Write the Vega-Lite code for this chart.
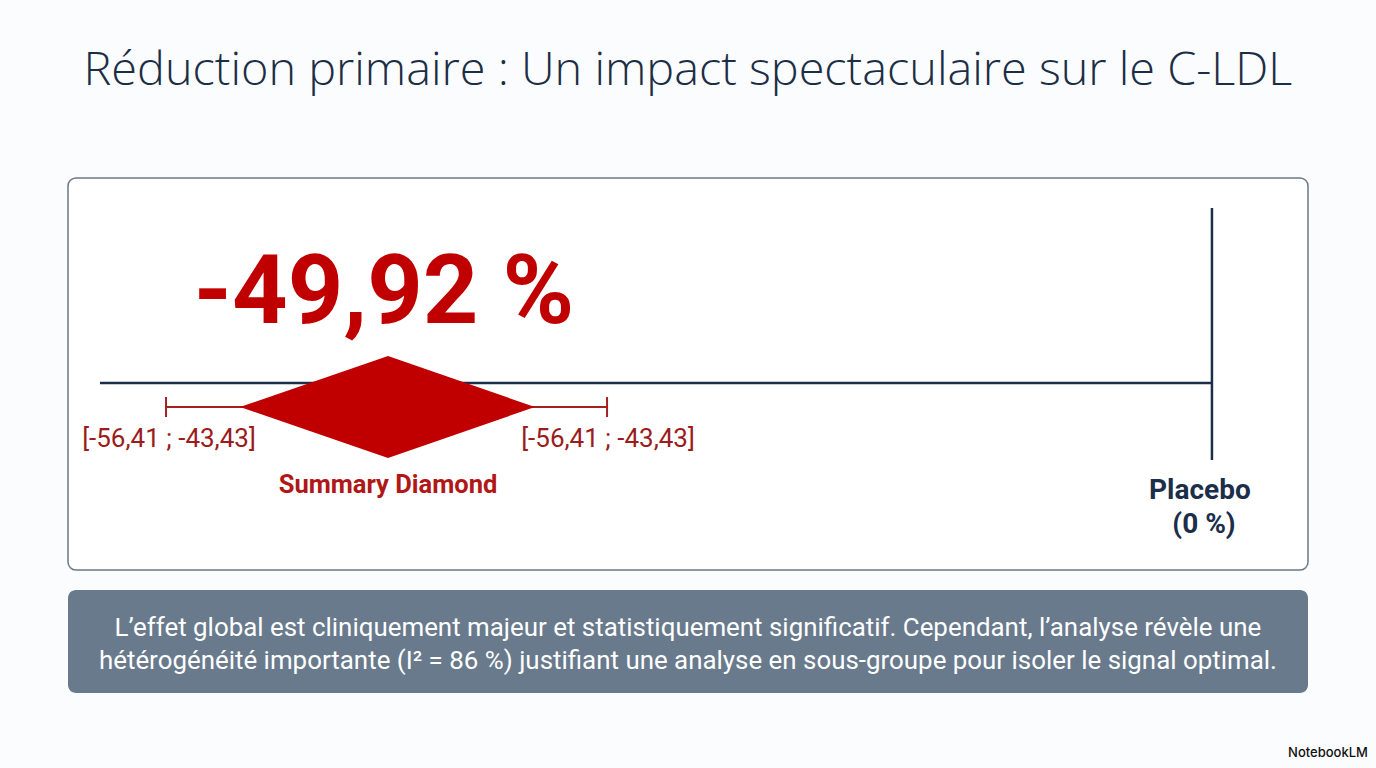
{
  "$schema": "https://vega.github.io/schema/vega-lite/v6.json",
  "width": 1376,
  "height": 768,
  "autosize": {"type": "fit", "contains": "padding"},
  "padding": 0,
  "background": "#fbfcfd",
  "config": {"view": {"stroke": null}},
  "layer": [
    {
      "data": {"values": [{"x": -69.31, "x2": 5.82, "y": 178, "y2": 570}]},
      "mark": {"type": "rect", "fill": "#ffffff", "stroke": "#6b7785", "strokeWidth": 1.5, "cornerRadius": 8},
      "encoding": {
        "x": {"field": "x", "type": "quantitative", "scale": {"domain": [-73.43, 9.94], "nice": false, "zero": false}, "axis": null},
        "x2": {"field": "x2"},
        "y": {"field": "y", "type": "quantitative", "scale": {"domain": [0, 768], "reverse": true, "nice": false, "zero": false}, "axis": null},
        "y2": {"field": "y2"}
      }
    },
    {
      "data": {"values": [{"x": -69.31, "x2": 5.82, "y": 590, "y2": 693}]},
      "mark": {"type": "rect", "fill": "#687a8c", "cornerRadius": 8},
      "encoding": {
        "x": {"field": "x", "type": "quantitative", "axis": null},
        "x2": {"field": "x2"},
        "y": {"field": "y", "type": "quantitative", "axis": null},
        "y2": {"field": "y2"}
      }
    },
    {
      "data": {"values": [
        {"part": "axis", "x": -67.37, "x2": 0, "y": 383, "y2": 383},
        {"part": "placebo", "x": 0, "x2": 0, "y": 208, "y2": 460}
      ]},
      "mark": {"type": "rule", "color": "#1c2e4a", "strokeWidth": 2.5},
      "encoding": {
        "x": {"field": "x", "type": "quantitative", "axis": null},
        "x2": {"field": "x2"},
        "y": {"field": "y", "type": "quantitative", "axis": null},
        "y2": {"field": "y2"}
      }
    },
    {
      "data": {"values": [
        {"part": "ci", "x": -63.37, "x2": -36.65, "y": 407, "y2": 407},
        {"part": "capL", "x": -63.37, "x2": -63.37, "y": 397, "y2": 417},
        {"part": "capR", "x": -36.65, "x2": -36.65, "y": 397, "y2": 417}
      ]},
      "mark": {"type": "rule", "color": "#a5201f", "strokeWidth": 2},
      "encoding": {
        "x": {"field": "x", "type": "quantitative", "axis": null},
        "x2": {"field": "x2"},
        "y": {"field": "y", "type": "quantitative", "axis": null},
        "y2": {"field": "y2"}
      }
    },
    {
      "data": {"values": [
        {"x": -58.89, "y": 407, "y2": 407},
        {"x": -49.92, "y": 356, "y2": 458},
        {"x": -41.02, "y": 407, "y2": 407}
      ]},
      "mark": {"type": "area", "orient": "vertical", "color": "#c00000", "interpolate": "linear", "opacity": 1},
      "encoding": {
        "x": {"field": "x", "type": "quantitative", "axis": null},
        "y": {"field": "y", "type": "quantitative", "axis": null},
        "y2": {"field": "y2"}
      }
    },
    {
      "data": {"values": [{"t": "Réduction primaire : Un impact spectaculaire sur le C-LDL", "x": -31.75, "y": 85}]},
      "mark": {"type": "text", "font": "Open Sans", "fontWeight": 300, "fontSize": 46.8, "color": "#1c2e45", "align": "center", "baseline": "alphabetic"},
      "encoding": {
        "x": {"field": "x", "type": "quantitative", "axis": null},
        "y": {"field": "y", "type": "quantitative", "axis": null},
        "text": {"field": "t"}
      }
    },
    {
      "data": {"values": [{"t": "-49,92 %", "x": -50.16, "y": 323}]},
      "mark": {"type": "text", "font": "Roboto", "fontWeight": "bold", "fontSize": 97, "color": "#c00000", "align": "center", "baseline": "alphabetic"},
      "encoding": {
        "x": {"field": "x", "type": "quantitative", "axis": null},
        "y": {"field": "y", "type": "quantitative", "axis": null},
        "text": {"field": "t"}
      }
    },
    {
      "data": {"values": [
        {"t": "[-56,41 ; -43,43]", "x": -63.19, "y": 447},
        {"t": "[-56,41 ; -43,43]", "x": -36.59, "y": 447}
      ]},
      "mark": {"type": "text", "font": "Roboto", "fontSize": 26, "color": "#9b1c1c", "align": "center", "baseline": "alphabetic"},
      "encoding": {
        "x": {"field": "x", "type": "quantitative", "axis": null},
        "y": {"field": "y", "type": "quantitative", "axis": null},
        "text": {"field": "t"}
      }
    },
    {
      "data": {"values": [{"t": "Summary Diamond", "x": -49.92, "y": 493}]},
      "mark": {"type": "text", "font": "Roboto", "fontWeight": "bold", "fontSize": 25.5, "color": "#b01818", "align": "center", "baseline": "alphabetic"},
      "encoding": {
        "x": {"field": "x", "type": "quantitative", "axis": null},
        "y": {"field": "y", "type": "quantitative", "axis": null},
        "text": {"field": "t"}
      }
    },
    {
      "data": {"values": [
        {"t": "Placebo", "x": -0.73, "y": 499},
        {"t": "(0 %)", "x": -0.48, "y": 533}
      ]},
      "mark": {"type": "text", "font": "Roboto", "fontWeight": "bold", "fontSize": 28, "color": "#1c2e4a", "align": "center", "baseline": "alphabetic"},
      "encoding": {
        "x": {"field": "x", "type": "quantitative", "axis": null},
        "y": {"field": "y", "type": "quantitative", "axis": null},
        "text": {"field": "t"}
      }
    },
    {
      "data": {"values": [
        {"t": "L’effet global est cliniquement majeur et statistiquement significatif. Cependant, l’analyse révèle une", "x": -31.75, "y": 636},
        {"t": "hétérogénéité importante (I² = 86 %) justifiant une analyse en sous-groupe pour isoler le signal optimal.", "x": -31.75, "y": 669}
      ]},
      "mark": {"type": "text", "font": "Roboto", "fontSize": 25.9, "color": "#ffffff", "align": "center", "baseline": "alphabetic"},
      "encoding": {
        "x": {"field": "x", "type": "quantitative", "axis": null},
        "y": {"field": "y", "type": "quantitative", "axis": null},
        "text": {"field": "t"}
      }
    },
    {
      "data": {"values": [{"t": "NotebookLM", "x": 9.45, "y": 757}]},
      "mark": {"type": "text", "font": "Inter", "fontWeight": 500, "fontSize": 13, "color": "#111111", "align": "right", "baseline": "alphabetic"},
      "encoding": {
        "x": {"field": "x", "type": "quantitative", "axis": null},
        "y": {"field": "y", "type": "quantitative", "axis": null},
        "text": {"field": "t"}
      }
    }
  ]
}
